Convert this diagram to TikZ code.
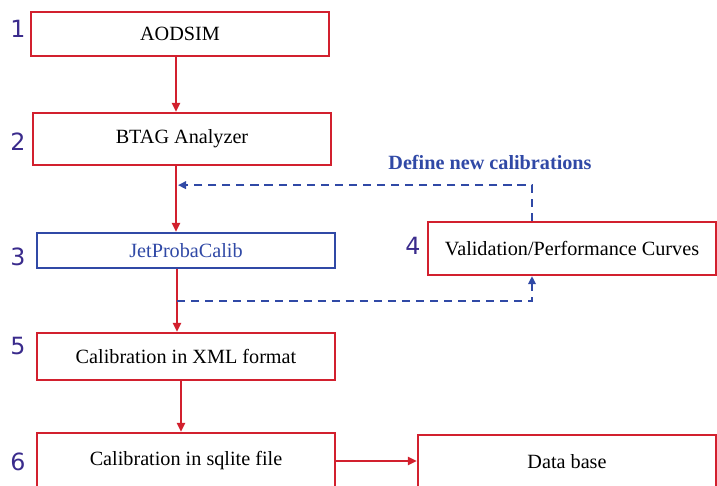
\documentclass[tikz,border=0pt]{standalone}
\usepackage{fontspec}
\setmainfont{Liberation Serif}
\newfontfamily\stepnumfont{DejaVu Sans}
\usetikzlibrary{arrows.meta,calc,positioning}
\definecolor{flowred}{HTML}{D2202E}
\definecolor{flowblue}{HTML}{3049A6}
\definecolor{numviolet}{HTML}{3A2B8C}
\tikzset{
  stage/.style={draw=flowred, line width=1.3pt, fill=white, inner sep=0pt, align=center, font=\fontsize{11.5}{13}\selectfont},
  calib/.style={stage, draw=flowblue, text=flowblue},
  stepnum/.style={text=numviolet, font=\stepnumfont\fontsize{13.5}{15}\selectfont, inner sep=0pt},
  flow/.style={-{Triangle[length=1.8mm, width=1.6mm]}, line width=1.2pt, flowred},
  feedback/.style={-{Triangle[length=1.6mm, width=1.5mm]}, line width=1.2pt, flowblue, dash pattern=on 4.6pt off 3.4pt}
}
\begin{document}
\begin{tikzpicture}[x=0.02cm, y=-0.02cm]
  \path[use as bounding box, clip] (0,0) rectangle (717,485);

  \node[stage, minimum width=5.96cm, minimum height=0.88cm] (aodsim) at (180,34) {AODSIM};
  \node[stage, minimum width=5.96cm, minimum height=1.04cm] (btag) at (182,139) {BTAG Analyzer};
  \node[calib, minimum width=5.96cm, minimum height=0.70cm] (jpc) at (186,250.5) {JetProbaCalib};
  \node[stage, minimum width=5.76cm, minimum height=1.06cm] (valid) at (572,248.5) {Validation/Performance Curves};
  \node[stage, minimum width=5.96cm, minimum height=0.94cm] (xml) at (186,356.5) {Calibration in XML format};
  \node[stage, minimum width=5.96cm, minimum height=1.12cm] (sqlite) at (186,461) {Calibration in sqlite file};
  \node[stage, minimum width=5.96cm, minimum height=1.08cm] (db) at (567,462) {Data base};

  \node[stepnum] (n1) at (18,29) {1};
  \node[stepnum] (n2) at (18,142) {2};
  \node[stepnum] (n3) at (18,257) {3};
  \node[stepnum] (n4) at (413,246) {4};
  \node[stepnum] (n5) at (18,346) {5};
  \node[stepnum] (n6) at (18,462) {6};

  \draw[flow] ($(aodsim.south)+(-4,0)$) -- ($(btag.north)+(-6,0)$);
  \draw[flow] ($(btag.south)+(-6,0)$) -- ($(jpc.north)+(-10,0)$);
  \draw[flow] ($(jpc.south)+(-9,0)$) -- ($(xml.north)+(-9,0)$);
  \draw[flow] ($(xml.south)+(-5,0)$) -- ($(sqlite.north)+(-5,0)$);
  \draw[flow] (sqlite.east) -- (sqlite.east -| db.west);

  % feedback loop through the validation step
  \coordinate (loopin) at ($(btag.south)+(-4,19)$);
  \coordinate (loopout) at ($(jpc.south)+(-9,32)$);
  \draw[feedback] ($(valid.north)+(-40,0)$) |- (loopin);
  \draw[feedback] (loopout) -| ($(valid.south)+(-40,0)$);
  \node[text=flowblue, font=\bfseries\fontsize{11.5}{13}\selectfont] (newcal) at (490,162) {Define new calibrations};
\end{tikzpicture}
\end{document}
